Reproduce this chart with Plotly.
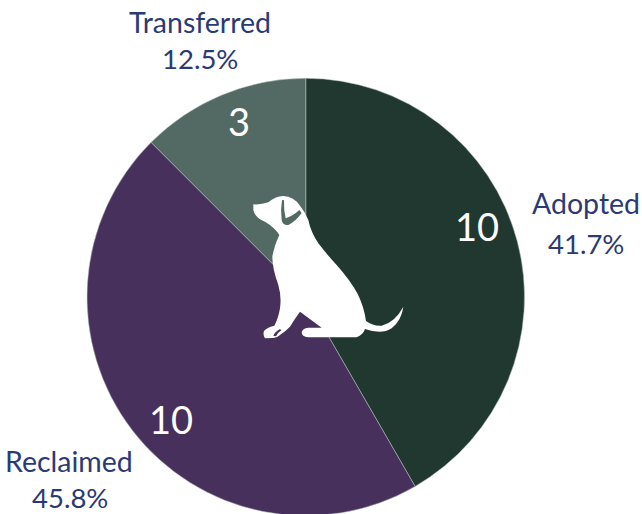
import re
import plotly.graph_objects as go

categories = ["Adopted", "Reclaimed", "Transferred"]
slice_values = [10, 11, 3]
count_labels = ["10", "10", "3"]
percent_labels = ["41.7%", "45.8%", "12.5%"]
slice_colors = ["#213831", "#48305C", "#526A63"]

W, H = 642, 518
TEXT = "#2A3A75"
FONT = "Lato"

name_pos = {"Adopted": (586, 203, 586, 244), "Reclaimed": (69, 461, 70, 497), "Transferred": (199.5, 22, 199.5, 58)}
count_pos = [(477, 226), (171, 419), (239, 121)]

DOG = ("M40 58 Q62 60 85 52 Q105 34 130 33 Q162 35 180 62 Q195 80 205 105 Q212 140 235 175 "
       "Q262 210 290 240 Q330 285 352 325 Q372 365 378 408 Q400 424 425 422 Q465 412 490 365 "
       "Q485 405 455 430 Q425 450 375 432 Q370 448 350 457 L205 457 Q185 455 185 442 Q187 430 205 428 "
       "L245 428 L180 380 Q165 400 150 425 Q135 440 120 450 Q112 458 100 459 L75 460 Q68 450 72 438 "
       "Q80 427 103 422 Q115 400 120 370 Q125 335 115 300 Q97 250 97 215 Q102 185 118 150 "
       "Q105 128 75 110 Q45 98 40 75 Z")
EAR = ("M126 45 L132 46 Q131 75 137 100 Q160 92 178 75 L185 84 Q168 108 145 120 "
       "Q128 122 125 105 Q121 75 126 45 Z")
SLIT = "M100 452 Q105 440 120 432 L124 436 Q112 444 108 454 Z"


def to_paper(path):
    toks = re.findall(r"[MLQZ]|-?\d+\.?\d*", path)
    out, is_x = [], True
    for t in toks:
        if t.isalpha():
            out.append(t)
            is_x = True
        else:
            v = float(t)
            if is_x:
                out.append(f"{(240 + v / 3) / W:.5f},")
            else:
                out.append(f"{1 - (185 + v / 3) / H:.5f}")
            is_x = not is_x
    return " ".join(out).replace(", ", ",")


annotations = []
for cat, pct in zip(categories, percent_labels):
    x1, y1, x2, y2 = name_pos[cat]
    annotations.append(dict(x=x1 / W, y=1 - y1 / H, text=cat, xref="paper", yref="paper", showarrow=False,
                            xanchor="center", yanchor="middle",
                            font=dict(family=FONT, size=28.5, color=TEXT)))
    annotations.append(dict(x=x2 / W, y=1 - y2 / H, text=pct, xref="paper", yref="paper", showarrow=False,
                            xanchor="center", yanchor="middle",
                            font=dict(family=FONT, size=27.5, color=TEXT)))
for (x, y), txt in zip(count_pos, count_labels):
    annotations.append(dict(x=x / W, y=1 - y / H, text=txt, xref="paper", yref="paper", showarrow=False,
                            xanchor="center", yanchor="middle",
                            font=dict(family=FONT, size=38, color="white", weight=400)))

fig = go.Figure(go.Pie(
    labels=categories, values=slice_values, sort=False, direction="clockwise", rotation=0,
    marker=dict(colors=slice_colors, line=dict(color="#B8C4C0", width=0.5)),
    textinfo="none", hoverinfo="none",
    domain=dict(x=[87 / W, 524.5 / W], y=[1 - 516 / H, 1 - 78 / H]),
))
fig.update_layout(
    width=W, height=H, margin=dict(l=0, r=0, t=0, b=0), showlegend=False,
    paper_bgcolor="white", annotations=annotations,
    shapes=[
        dict(type="path", xref="paper", yref="paper", path=to_paper(DOG), fillcolor="white", line=dict(width=0), layer="above"),
        dict(type="path", xref="paper", yref="paper", path=to_paper(EAR), fillcolor="#526A63", line=dict(width=0), layer="above"),
        dict(type="path", xref="paper", yref="paper", path=to_paper(SLIT), fillcolor="#48305C", line=dict(width=0), layer="above"),
    ],
)
fig.write_html("out.html", config={"displayModeBar": False},
               post_script="document.body.style.margin='0';document.documentElement.style.overflow='hidden';")
